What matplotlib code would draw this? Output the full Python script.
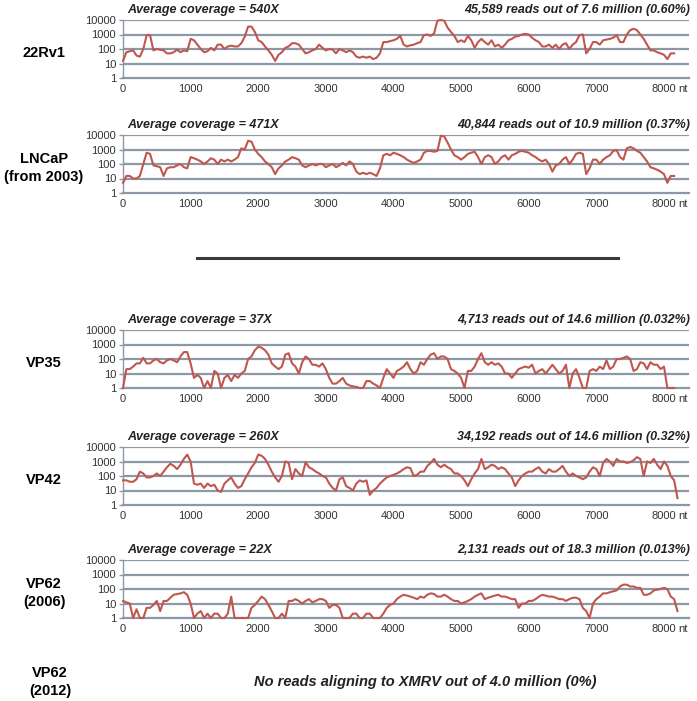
import numpy as np
import matplotlib.pyplot as plt

# coverage read every 50 nt from the figure
cov_22rv1 = [15, 60, 70, 80, 35, 30, 100, 900, 900, 80, 100, 90, 80, 50, 50, 60, 90, 60, 80, 70,
             500, 400, 200, 100, 60, 70, 120, 80, 200, 200, 100, 150, 170, 150, 150, 250, 700, 3500, 3500, 1500,
             400, 300, 150, 80, 40, 15, 40, 60, 120, 150, 250, 250, 200, 100, 50, 60, 80, 100, 200, 120,
             80, 100, 90, 50, 100, 80, 60, 80, 60, 30, 25, 30, 25, 30, 20, 25, 50, 300, 300, 350,
             400, 500, 800, 200, 150, 180, 200, 250, 300, 900, 1000, 800, 1200, 9000, 10000, 9000, 3000, 1500, 800, 300,
             400, 300, 800, 400, 120, 300, 500, 300, 200, 400, 150, 200, 120, 200, 400, 500, 700, 800, 1000, 1100,
             1000, 600, 400, 300, 150, 150, 200, 120, 200, 100, 200, 250, 100, 200, 300, 900, 1000, 50, 100, 300,
             300, 200, 400, 450, 500, 600, 900, 300, 300, 1000, 2000, 2500, 2000, 1000, 500, 200, 80, 80, 60, 50,
             40, 20, 50, 50]
cov_lncap = [5, 15, 15, 10, 10, 15, 100, 600, 500, 80, 70, 60, 15, 50, 60, 60, 80, 100, 60, 50,
             300, 250, 200, 150, 100, 150, 250, 200, 100, 200, 150, 200, 150, 200, 300, 1200, 1000, 4000, 3500, 1000,
             500, 300, 150, 100, 60, 20, 50, 80, 150, 200, 300, 250, 200, 80, 60, 80, 100, 80, 100, 100,
             60, 80, 100, 60, 80, 120, 80, 150, 100, 30, 20, 25, 20, 25, 20, 15, 50, 400, 500, 400,
             600, 500, 400, 300, 200, 150, 120, 150, 200, 600, 800, 800, 700, 800, 9000, 8000, 3000, 1000, 400, 300,
             200, 300, 500, 600, 700, 300, 100, 300, 400, 300, 100, 150, 300, 400, 200, 400, 500, 700, 800, 700,
             600, 400, 300, 200, 150, 200, 100, 30, 80, 100, 200, 300, 100, 200, 500, 600, 500, 20, 50, 200,
             200, 100, 200, 300, 400, 800, 900, 300, 200, 1200, 1500, 1200, 800, 600, 300, 150, 60, 50, 40, 30,
             20, 5, 15, 15]
cov_vp35 = [1, 20, 20, 30, 50, 50, 120, 50, 50, 80, 100, 60, 50, 80, 100, 80, 60, 150, 300, 300,
            50, 5, 8, 5, 1, 3, 1, 15, 10, 1, 5, 8, 3, 8, 5, 10, 15, 100, 150, 400,
            700, 600, 400, 200, 50, 30, 20, 30, 200, 250, 50, 30, 10, 60, 150, 100, 40, 40, 30, 50,
            20, 5, 2, 2, 3, 5, 2, 1.5, 1.3, 1.2, 1, 1, 3, 3, 2, 1.5, 1, 5, 20, 10,
            5, 15, 20, 30, 60, 20, 10, 15, 60, 40, 100, 200, 250, 100, 150, 150, 100, 20, 15, 10,
            5, 1, 15, 15, 30, 100, 250, 60, 40, 60, 40, 50, 30, 10, 10, 5, 10, 20, 25, 30,
            25, 40, 10, 15, 20, 10, 20, 40, 20, 10, 15, 40, 1, 10, 20, 5, 1, 1, 15, 20,
            15, 30, 20, 80, 20, 30, 100, 100, 120, 150, 100, 15, 20, 60, 50, 20, 60, 40, 40, 20,
            30, 1, 1, 1]
cov_vp42 = [50, 50, 40, 40, 60, 200, 150, 80, 80, 100, 150, 100, 200, 400, 700, 500, 300, 600, 1500, 3000,
            1000, 30, 25, 30, 15, 30, 20, 25, 10, 8, 30, 50, 80, 30, 15, 20, 60, 150, 400, 800,
            3000, 2500, 1500, 600, 200, 80, 40, 100, 1000, 800, 60, 300, 150, 100, 900, 400, 300, 200, 150, 100,
            80, 30, 15, 10, 60, 80, 20, 15, 10, 30, 50, 40, 50, 5, 10, 15, 30, 50, 80, 100,
            120, 150, 200, 300, 400, 350, 100, 120, 200, 200, 500, 800, 1500, 600, 400, 600, 400, 300, 150, 150,
            100, 50, 20, 60, 150, 300, 1500, 300, 400, 600, 500, 300, 400, 300, 150, 80, 20, 50, 100, 150,
            200, 200, 300, 400, 200, 150, 300, 200, 200, 300, 500, 200, 100, 150, 100, 80, 60, 80, 200, 400,
            300, 100, 800, 1500, 1000, 500, 1500, 1000, 1000, 800, 900, 1200, 2000, 1500, 100, 1000, 800, 1500, 600, 300,
            1000, 500, 100, 50, 3]
cov_vp62 = [15, 12, 10, 1, 4, 1, 1, 5, 5, 8, 15, 3, 15, 15, 25, 40, 45, 50, 60, 40,
            10, 1, 2, 3, 1, 2, 1, 2, 2, 1, 1, 2, 30, 1, 1, 1, 1, 1, 5, 8,
            15, 30, 20, 8, 3, 1, 1, 2, 1, 15, 15, 20, 15, 10, 15, 20, 12, 15, 20, 20,
            15, 5, 8, 8, 5, 1, 1, 1, 2, 2, 1, 1, 2, 2, 1, 1, 1, 2, 5, 8,
            10, 20, 30, 40, 35, 30, 25, 20, 30, 25, 40, 50, 45, 30, 30, 40, 30, 20, 15, 15,
            10, 12, 15, 20, 30, 40, 50, 20, 25, 30, 35, 40, 30, 30, 25, 20, 20, 5, 10, 10,
            15, 15, 20, 30, 40, 35, 30, 30, 25, 20, 20, 15, 20, 25, 25, 20, 5, 3, 1, 10,
            20, 30, 50, 50, 60, 70, 80, 150, 200, 200, 150, 150, 120, 120, 40, 40, 50, 80, 90, 100,
            120, 100, 30, 20, 3]

samples = ["22Rv1", "LNCaP\n(from 2003)", "VP35", "VP42", "VP62\n(2006)"]
left_titles = ["Average coverage = 540X", "Average coverage = 471X", "Average coverage = 37X",
               "Average coverage = 260X", "Average coverage = 22X"]
right_titles = ["45,589 reads out of 7.6 million (0.60%)", "40,844 reads out of 10.9 million (0.37%)",
                "4,713 reads out of 14.6 million (0.032%)", "34,192 reads out of 14.6 million (0.32%)",
                "2,131 reads out of 18.3 million (0.013%)"]
series = [cov_22rv1, cov_lncap, cov_vp35, cov_vp42, cov_vp62]
yticks = [1, 10, 100, 1000, 10000]
xticks = [0, 1000, 2000, 3000, 4000, 5000, 6000, 7000, 8000]

W, H = 697, 701
grid_c = "#8c98a6"
line_c = "#c0574f"
plt.rcParams['font.family'] = ['Liberation Sans', 'DejaVu Sans']

fig = plt.figure(figsize=(W / 100, H / 100), dpi=100)

tops = [20, 135, 330, 447, 560]
ph = 58
for top, name, lt, rt, vals in zip(tops, samples, left_titles, right_titles, series):
    ax = fig.add_axes([123 / W, (H - top - ph) / H, 566 / W, ph / H])
    x = np.arange(len(vals)) * 50
    ax.plot(x, vals, color=line_c, lw=1.5, zorder=3, clip_on=False)
    ax.set_yscale('log')
    ax.set_ylim(1, 10000)
    ax.set_xlim(0, 8370)
    ax.set_yticks(yticks)
    ax.set_yticklabels([str(t) for t in yticks])
    ax.minorticks_off()
    ax.set_xticks(xticks)
    ax.set_xticklabels([str(t) for t in xticks])
    for t in yticks[1:]:
        ax.axhline(t, color=grid_c, lw=1.6, zorder=1)
    for s in ['top', 'right']:
        ax.spines[s].set_visible(False)
    ax.spines['bottom'].set_color(grid_c)
    ax.spines['bottom'].set_linewidth(1.6)
    ax.spines['left'].set_color(grid_c)
    ax.spines['left'].set_linewidth(1.0)
    ax.tick_params(axis='y', length=3, width=1, color=grid_c, pad=2, labelsize=8, labelcolor='#333333')
    ax.tick_params(axis='x', length=0, pad=4, labelsize=8, labelcolor='#333333')
    ax.annotate("nt", xy=(8275, 1), xycoords='data', xytext=(0, -4), textcoords='offset points',
                ha='center', va='top', fontsize=8, color='#333333')
    ax.text(0.008, 1 + 10 / ph, lt, transform=ax.transAxes, ha='left', va='center',
            fontsize=9, fontweight='bold', fontstyle='italic', color='#222222')
    ax.text(1.002, 1 + 10 / ph, rt, transform=ax.transAxes, ha='right', va='center',
            fontsize=9, fontweight='bold', fontstyle='italic', color='#222222')
    fig.text(44 / W, 1 - (top + ph / 2 + 4) / H, name, ha='center', va='center',
             fontsize=10.5, fontweight='bold', linespacing=1.3)

# separator between the two groups
fig.add_artist(plt.Line2D([197 / W, 618 / W], [1 - 258 / H, 1 - 258 / H], color='#3a3a3a', lw=2.2))

fig.text(50 / W, 1 - 682 / H, "VP62\n(2012)", ha='center', va='center', fontsize=10.5,
         fontweight='bold', linespacing=1.3)
fig.text(425 / W, 1 - 682 / H, "No reads aligning to XMRV out of 4.0 million (0%)", ha='center',
         va='center', fontsize=10.5, fontweight='bold', fontstyle='italic', color='#222222')

fig.savefig("out.png", dpi=100)
